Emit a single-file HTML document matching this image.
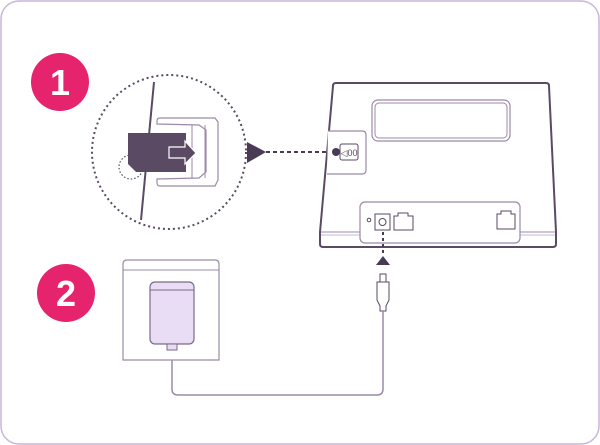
<!DOCTYPE html>
<html><head><style>body{margin:0;background:#fff}svg{display:block}</style></head><body>
<svg width="600" height="445" viewBox="0 0 600 445" xmlns="http://www.w3.org/2000/svg" font-family="Liberation Sans, sans-serif">
<rect x="1" y="1" width="598" height="443" rx="18" fill="#fff" stroke="#c9b6dc" stroke-width="1.5"/>
<circle cx="60" cy="82" r="29" fill="#e6246e"/>
<text x="60" y="95" font-size="36" font-weight="bold" fill="#fff" text-anchor="middle">1</text>
<circle cx="66" cy="293" r="29" fill="#e6246e"/>
<text x="66" y="306" font-size="36" font-weight="bold" fill="#fff" text-anchor="middle">2</text>
<circle cx="169" cy="152" r="77" fill="none" stroke="#5a4a63" stroke-width="2" stroke-dasharray="2 3"/>
<line x1="154" y1="82" x2="141" y2="220" stroke="#5a4a63" stroke-width="2"/>
<path d="M157 121 Q157 118 160 118 L215 118 L218 122 L218 180 L215 186 L160 186 Q157 186 157 183 L157 179 L199 178 L206 172 L206 130 L199 125 L157 124 Z" fill="#fff" stroke="#9c8aa8" stroke-width="1.2"/>
<line x1="192" y1="125" x2="192" y2="178" stroke="#9c8aa8"/>
<line x1="205" y1="125" x2="205" y2="178" stroke="#9c8aa8"/>
<path d="M128 133 L186 133 L186 172 L136 172 L128 164 Z" fill="#5a4a63"/>
<path d="M169 147 L185 147 L185 141 L196 153 L185 164 L185 158 L169 158 Z" fill="#5a4a63" stroke="#fff" stroke-width="1.2"/>
<circle cx="131" cy="167" r="12" fill="none" stroke="#5a4a63" stroke-width="1.2" stroke-dasharray="1.5 2"/>
<path d="M247 142 L266 152 L247 163 Z" fill="#4a3b55"/>
<line x1="266" y1="152" x2="334" y2="152" stroke="#4a3b55" stroke-width="2" stroke-dasharray="4 3"/>
<path d="M336 83 L546 83 Q549 83 549 86 L556 232 L556 244 Q556 247 553 247 L323 247 Q320 247 320 244 L320 232 L333 86 Q333 83 336 83 Z" fill="#fff" stroke="#5a4a63" stroke-width="2"/>
<line x1="321" y1="232" x2="555" y2="232" stroke="#9c8aa8"/>
<line x1="321" y1="235" x2="555" y2="235" stroke="#c9b6dc"/>
<rect x="372" y="100" width="138" height="41" rx="6" fill="#fff" stroke="#9c8aa8" stroke-width="1.2"/>
<rect x="375" y="103" width="132" height="35" rx="4" fill="none" stroke="#9c8aa8"/>
<path d="M328 131 L362 131 Q366 131 366 135 L366 170 Q366 174 362 174 L327 174" fill="#fff" stroke="#9c8aa8" stroke-width="1.2"/>
<rect x="340" y="144" width="18" height="16" rx="2" fill="#fff" stroke="#5a4a63"/>
<text x="349" y="156" font-size="9" fill="#5a4a63" text-anchor="middle">◁00</text>
<circle cx="336" cy="152" r="4" fill="#4a3b55"/>
<rect x="360" y="202" width="160" height="41" rx="5" fill="#fff" stroke="#9c8aa8" stroke-width="1.2"/>
<circle cx="369" cy="220" r="1.8" fill="none" stroke="#5a4a63"/>
<rect x="375" y="214" width="15" height="16" fill="#fff" stroke="#5a4a63"/>
<circle cx="382.5" cy="222" r="3.5" fill="none" stroke="#5a4a63"/>
<path d="M394 216 L398 216 L398 213 L408 213 L408 216 L413 216 L413 230 L394 230 Z" fill="#fff" stroke="#5a4a63"/>
<path d="M497 214 L501 214 L501 211 L511 211 L511 214 L515 214 L515 229 L497 229 Z" fill="#fff" stroke="#5a4a63"/>
<line x1="383" y1="232" x2="383" y2="256" stroke="#4a3b55" stroke-width="2" stroke-dasharray="3 3"/>
<path d="M376 265 L383 256 L390 265 Z" fill="#4a3b55"/>
<rect x="380" y="274" width="6" height="8" fill="#fff" stroke="#5a4a63"/>
<path d="M377 282 L389 282 L389 300 L386 306 L386 311 L380 311 L380 306 L377 300 Z" fill="#fff" stroke="#5a4a63"/>
<path d="M383 311 L383 389 Q383 395 377 395 L178 395 Q172 395 172 389 L172 348" fill="none" stroke="#9c8aa8" stroke-width="1.5"/>
<path d="M123 264 Q123 260 127 260 L215 260 Q219 260 219 264 L219 360 L123 360 Z" fill="#fff" stroke="#9c8aa8" stroke-width="1.2"/>
<path d="M123 270 L219 270" stroke="#9c8aa8"/>
<rect x="150" y="282" width="44" height="62" rx="5" fill="#e9ddf5" stroke="#7c6a8a" stroke-width="1.2"/>
<line x1="150" y1="290" x2="194" y2="290" stroke="#7c6a8a"/>
<rect x="167" y="344" width="10" height="6" fill="#e9ddf5" stroke="#7c6a8a"/>
</svg>
</body></html>
